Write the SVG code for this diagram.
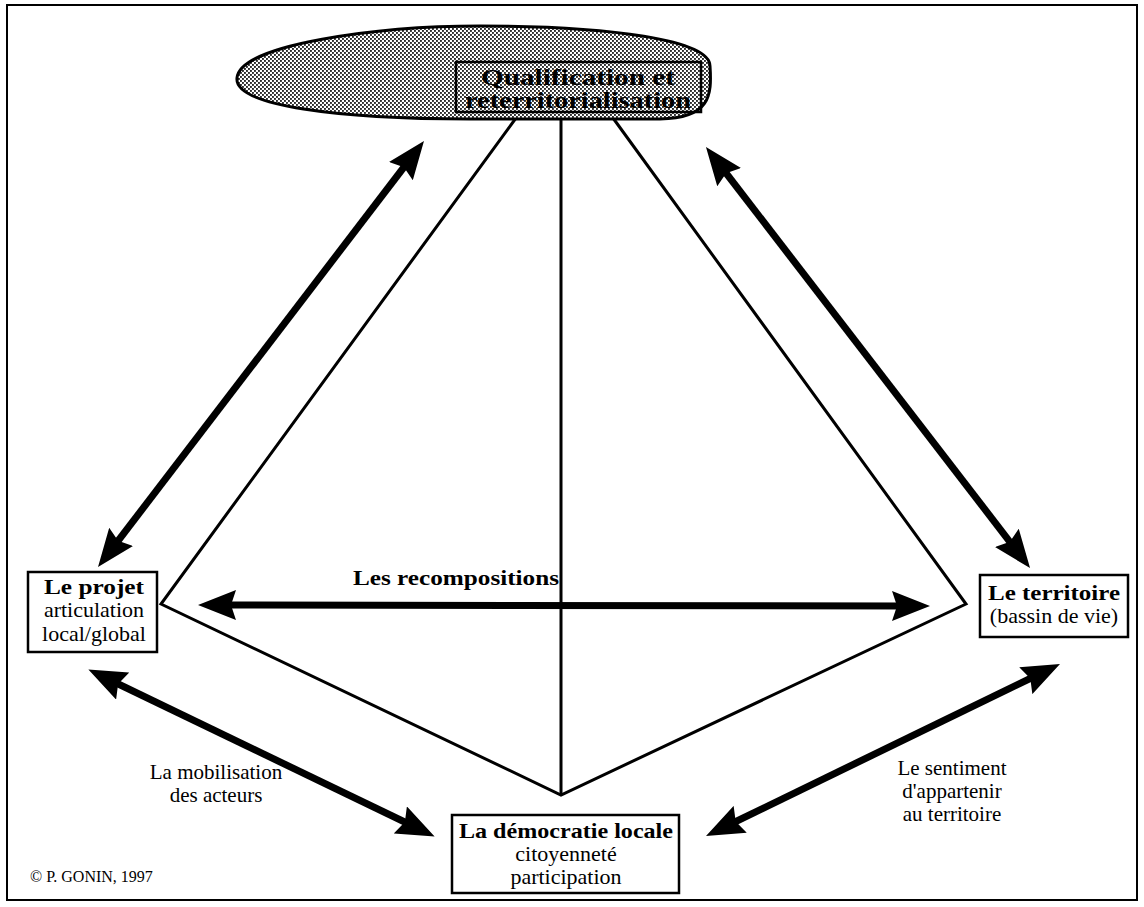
<svg xmlns="http://www.w3.org/2000/svg" width="1144" height="907" viewBox="0 0 1144 907">
  <style>
    .frame { fill: #fff; stroke: #000; stroke-width: 2; }
    .box { fill: #fff; stroke: #000; stroke-width: 2.5; }
    .edge { fill: none; stroke: #000; stroke-width: 3; stroke-linejoin: miter; }
    .arrow { fill: none; stroke: #000; stroke-width: 7; marker-start: url(#head); marker-end: url(#head); }
    .title { font-family: "Liberation Serif", "DejaVu Serif", serif; font-weight: bold; font-size: 21px; fill: #000; text-anchor: middle; }
    .sub { font-family: "Liberation Serif", "DejaVu Serif", serif; font-size: 22px; fill: #000; text-anchor: middle; }
    .label { font-family: "Liberation Serif", "DejaVu Serif", serif; font-size: 21px; fill: #000; text-anchor: middle; }
    .credit { font-family: "Liberation Serif", "DejaVu Serif", serif; font-size: 16px; fill: #000; }
    .main { font-family: "Liberation Serif", "DejaVu Serif", serif; font-weight: bold; font-size: 23px; fill: #000; text-anchor: middle; }
  </style>
  <defs>
    <!-- halftone dot screen for the ellipse -->
    <pattern id="dots" width="4" height="4" patternUnits="userSpaceOnUse">
      <rect width="4" height="4" fill="#ffffff"/>
      <rect x="0" y="0" width="1.9" height="1.9" fill="#2a2a2a"/>
      <rect x="2" y="2" width="1.9" height="1.9" fill="#2a2a2a"/>
    </pattern>
    <marker id="head" viewBox="0 0 38 30" refX="14" refY="15" markerWidth="38" markerHeight="30" markerUnits="userSpaceOnUse" orient="auto-start-reverse">
      <path d="M0,0 L38,15 L0,30 L5,15 Z" fill="#000"/>
    </marker>
  </defs>

  <rect class="frame" x="7" y="5" width="1130" height="895"/>

  <g id="connectors">
    <!-- pyramid lines from the ellipse down to the three poles -->
    <polyline class="edge" points="516,118 161,604 561,795 966,604 613,118"/>
    <line class="edge" x1="561" y1="120" x2="561" y2="795"/>
    <!-- double-headed arrows (ends pulled back 24px from each tip) -->
    <line class="arrow" x1="112.6" y1="548" x2="409.4" y2="160"/>
    <line class="arrow" x1="720.6" y1="166" x2="1015.4" y2="549"/>
    <line class="arrow" x1="222" y1="605" x2="906" y2="606"/>
    <line class="arrow" x1="110" y1="680" x2="413" y2="826"/>
    <line class="arrow" x1="1038.4" y1="674.5" x2="727.6" y2="825.5"/>
  </g>

  <g id="qualification">
    <!-- ellipse with its right end swelled to hold the title box -->
    <path d="M237,78 C240,44 380,26 480,26 C610,26 710,40 710,66 C712,96 710,118 660,119 L470,119 C340,119 234,106 237,78 Z" fill="url(#dots)" stroke="#000" stroke-width="3"/>
    <rect x="456" y="62" width="245" height="50" fill="none" stroke="#000" stroke-width="2.5"/>
    <text class="main" x="578" y="85" textLength="194" lengthAdjust="spacingAndGlyphs">Qualification et</text>
    <text class="main" x="578" y="108" textLength="226" lengthAdjust="spacingAndGlyphs">reterritorialisation</text>
  </g>

  <g id="projet">
    <rect class="box" x="28" y="572" width="129" height="80"/>
    <text class="title" x="94" y="594" textLength="100" lengthAdjust="spacingAndGlyphs">Le projet</text>
    <text class="sub" x="94" y="617">articulation</text>
    <text class="sub" x="94" y="641">local/global</text>
  </g>

  <g id="territoire">
    <rect class="box" x="980" y="575" width="148" height="62"/>
    <text class="title" x="1054" y="600" textLength="132" lengthAdjust="spacingAndGlyphs">Le territoire</text>
    <text class="sub" x="1054" y="623">(bassin de vie)</text>
  </g>

  <g id="democratie">
    <rect class="box" x="452" y="815" width="227" height="78"/>
    <text class="title" x="566" y="838" textLength="214" lengthAdjust="spacingAndGlyphs">La démocratie locale</text>
    <text class="sub" x="566" y="861">citoyenneté</text>
    <text class="sub" x="566" y="884">participation</text>
  </g>

  <g id="labels">
    <text class="label" x="456" y="585" style="font-weight:bold" textLength="206" lengthAdjust="spacingAndGlyphs">Les recompositions</text>
    <text class="label" x="216" y="779">La mobilisation</text>
    <text class="label" x="216" y="802">des acteurs</text>
    <text class="label" x="952" y="775">Le sentiment</text>
    <text class="label" x="952" y="798">d'appartenir</text>
    <text class="label" x="952" y="821">au territoire</text>
    <text class="credit" x="30" y="882">© P. GONIN, 1997</text>
  </g>
</svg>
